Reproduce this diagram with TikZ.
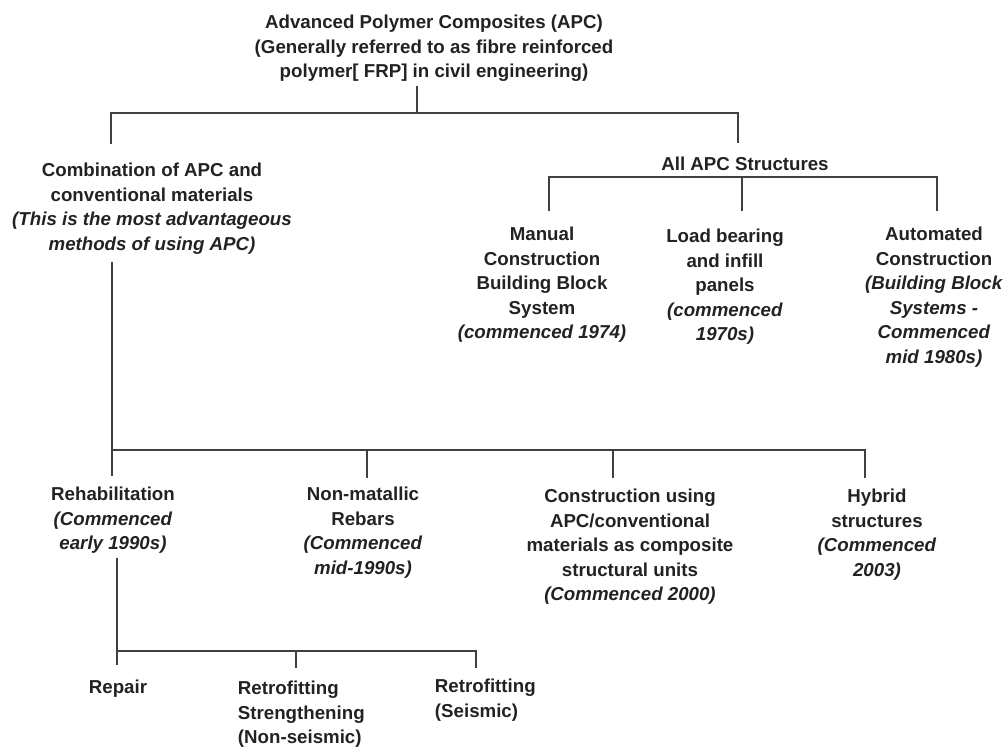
\documentclass[tikz,border=0pt]{standalone}
\usepackage{fontspec}
\setmainfont{Liberation Sans}
\definecolor{ink}{HTML}{222222}
\definecolor{rule}{HTML}{404040}

\begin{document}
\begin{tikzpicture}[x=1pt,y=-1pt,line width=1.9pt,
  lbl/.style={align=center,inner sep=1pt,text=ink,
    font=\fontsize{18.7}{24.6}\selectfont\bfseries},
  link/.style={draw=rule,line cap=butt}]
\useasboundingbox (0,0) rectangle (1007,747);
% labels
\node[lbl,anchor=north] (apc) at (434,13)
  {Advanced Polymer Composites (APC)\\(Generally referred to as fibre reinforced\\polymer[ FRP] in civil engineering)};
\node[lbl,anchor=north] (comb) at (152,161)
  {Combination of APC and\\conventional materials\\\textit{(This is the most advantageous}\\\textit{methods of using APC)}};
\node[lbl,anchor=north] (all) at (745,155) {All APC Structures};
\node[lbl,anchor=north] (manual) at (542,225)
  {Manual\\Construction\\Building Block\\System\\\textit{(commenced 1974)}};
\node[lbl,anchor=north] (load) at (725,227)
  {Load bearing\\and infill\\panels\\\textit{(commenced}\\\textit{1970s)}};
\node[lbl,anchor=north] (auto) at (934,225)
  {Automated\\Construction\\\textit{(Building Block}\\\textit{Systems -}\\\textit{Commenced}\\\textit{mid 1980s)}};
\node[lbl,anchor=north] (rehab) at (113,485)
  {Rehabilitation\\\textit{(Commenced}\\\textit{early 1990s)}};
\node[lbl,anchor=north] (nonmet) at (363,485)
  {Non-matallic\\Rebars\\\textit{(Commenced}\\\textit{mid-1990s)}};
\node[lbl,anchor=north] (cons) at (630,487)
  {Construction using\\APC/conventional\\materials as composite\\structural units\\\textit{(Commenced 2000)}};
\node[lbl,anchor=north] (hybrid) at (877,487)
  {Hybrid\\structures\\\textit{(Commenced}\\\textit{2003)}};
\node[lbl,anchor=north] (repair) at (118,678) {Repair};
\node[lbl,align=left,anchor=north west] (retro1) at (236,679)
  {Retrofitting\\Strengthening\\(Non-seismic)};
\node[lbl,align=left,anchor=north west] (retro2) at (433,677)
  {Retrofitting\\(Seismic)};
% junctions on the bars
\coordinate (j0) at (417,113); \coordinate (jL) at (111,113); \coordinate (jR) at (738,113);
\coordinate (k1) at (549,177); \coordinate (k2) at (742,177); \coordinate (k3) at (937,177);
\coordinate (m1) at (112,450); \coordinate (m2) at (367,450);
\coordinate (m3) at (613,450); \coordinate (m4) at (865,450);
\coordinate (n1) at (117,651); \coordinate (n2) at (296,651); \coordinate (n3) at (476,651);
% first level
\draw[link] ([yshift=-2pt]apc.south -| j0) -- (j0);
\draw[link] ([yshift=17pt]comb.north -| jL) |- (jR) -- ([yshift=12pt]all.north -| jR);
% all APC structures
\draw[link] ([yshift=14pt]manual.north -| k1) |- (k3) -- ([yshift=14pt]auto.north -| k3);
\draw[link] (k2) -- ([yshift=16pt]load.north -| k2);
% combination branch
\draw[link] ([yshift=-6pt]comb.south -| m1) -- ([yshift=9pt]rehab.north -| m1);
\draw[link] (m1) -- (m4) -- ([yshift=9pt]hybrid.north -| m4);
\draw[link] (m2) -- ([yshift=7pt]nonmet.north -| m2);
\draw[link] (m3) -- ([yshift=9pt]cons.north -| m3);
% rehabilitation branch
\draw[link] ([yshift=-2pt]rehab.south -| n1) -- ([yshift=13pt]repair.north -| n1);
\draw[link] (n1) -- (n3) -- ([yshift=9pt]retro2.north -| n3);
\draw[link] (n2) -- ([yshift=11pt]retro1.north -| n2);
\end{tikzpicture}
\end{document}
